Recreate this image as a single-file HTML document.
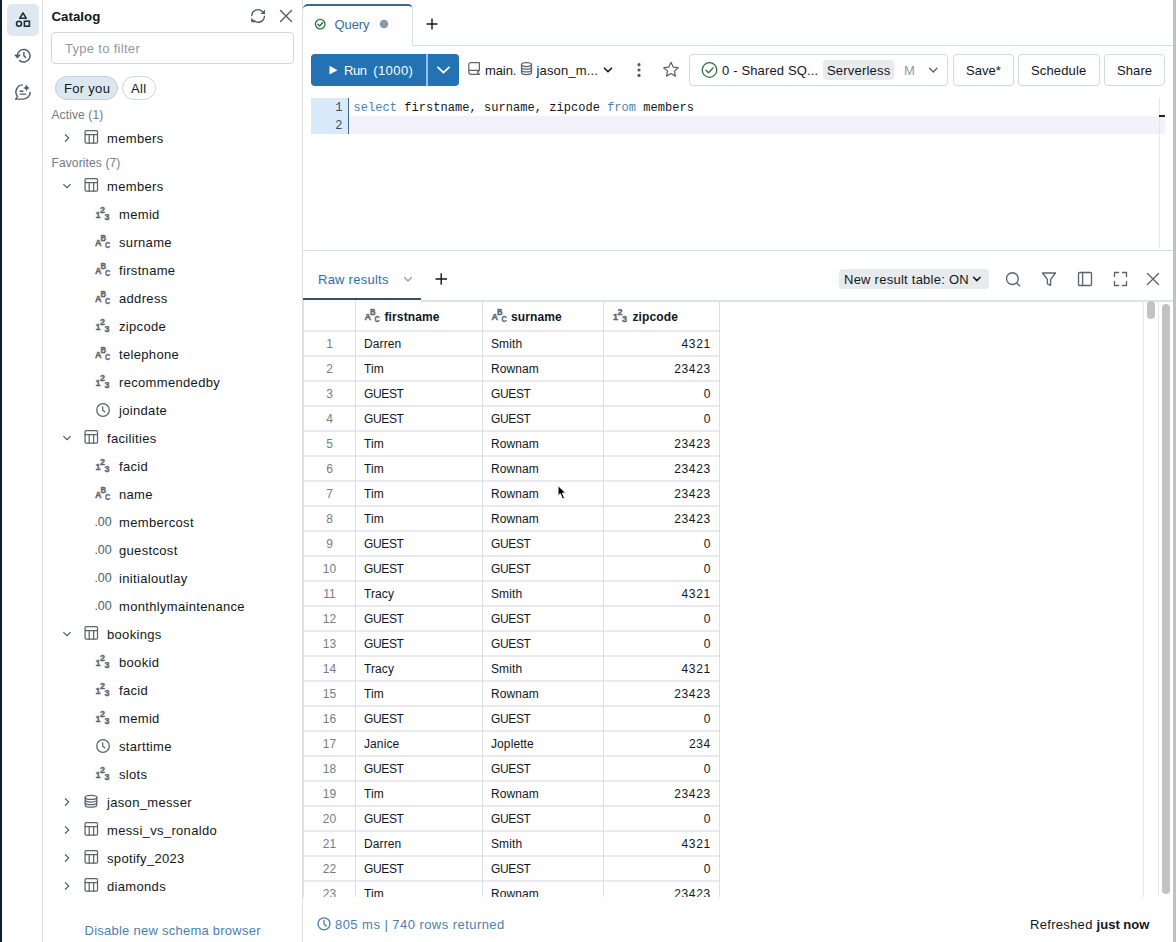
<!DOCTYPE html>
<html><head><meta charset="utf-8">
<style>
*{box-sizing:border-box;margin:0;padding:0}
html,body{width:1176px;height:942px;overflow:hidden;background:#fff;font-family:"Liberation Sans",sans-serif;color:#11171c;font-size:13px}
.a{position:absolute}
.t{position:absolute;white-space:nowrap;line-height:18px}
svg{position:absolute;overflow:visible}
#strip{left:0;top:0;width:2px;height:942px;background:#0e1f29}
#rail{left:2px;top:0;width:41px;height:942px;border-right:1px solid #dbdde1}
#cat{left:43px;top:0;width:260px;height:942px;border-right:1px solid #dbdde1}
.tr{font-size:13px;letter-spacing:0.33px}
.ico{stroke:#5a6570;fill:none;stroke-width:1.3}
.grey{color:#737a81}
</style></head><body>
<div id="strip" class="a"></div>
<div id="rail" class="a"></div>
<div id="cat" class="a"></div>

<!-- rail icons -->
<div class="a" style="left:7px;top:4px;width:32px;height:32px;border-radius:5px;background:#dfe8f1"></div>
<svg width="1176" height="942" style="left:0;top:0">
  <g fill="none" stroke="#1b3139" stroke-width="1.6">
    <path d="M23 12.9 L19.7 18.3 L26.3 18.3 Z" stroke-linejoin="round"/>
    <circle cx="19" cy="23.7" r="2.5"/>
    <rect x="24.4" y="21.2" width="5" height="5"/>
  </g>
  <g fill="none" stroke="#4f5d69" stroke-width="1.45" stroke-linecap="round" stroke-linejoin="round">
    <path d="M19.7 60.6 A6.3 6.3 0 1 0 17.4 56.2"/>
    <path d="M15.3 55.1 L17.45 57.6 L19.7 55.1 Z" fill="#4f5d69"/>
    <path d="M23.9 52.4 V55.7 L25.6 57.5"/>
  </g>
  <g fill="none" stroke="#4f5d69" stroke-width="1.45" stroke-linecap="round" stroke-linejoin="round">
    <path d="M22.6 84.9 A7 7 0 0 0 17.6 96.4 L15.6 99.1 L23.4 99.1 A7 7 0 0 0 30.2 92.4"/>
    <path d="M20.2 91.2 H22.9 M20.2 94.1 H25.7"/>
  </g>
  <path d="M26.5 84.6 Q27 87.4 29.9 87.9 Q27 88.4 26.5 91.2 Q26 88.4 23.1 87.9 Q26 87.4 26.5 84.6Z" fill="#4f5d69"/>
</svg>

<!-- catalog header -->
<div class="t" style="left:51.5px;top:7.5px;font-weight:bold;font-size:13.3px">Catalog</div>
<svg width="1176" height="942" style="left:0;top:0">
  <g fill="none" stroke="#4f5d69" stroke-width="1.4" stroke-linecap="round" stroke-linejoin="round">
    <path d="M251.8 15.6 A6.1 6.1 0 0 1 262.3 11.6"/>
    <path d="M264.4 16.2 A6.1 6.1 0 0 1 254 20.4"/>
  </g>
  <path d="M265 9.6 V14.1 H260.5 Z M251.2 17.7 V22.2 H255.7 Z" fill="#4f5d69"/>
  <g stroke="#4f5d69" stroke-width="1.4" stroke-linecap="round">
    <path d="M280.5 10.5 L291.5 21.5 M291.5 10.5 L280.5 21.5"/>
  </g>
</svg>
<div class="a" style="left:51px;top:32px;width:243px;height:32px;border:1px solid #cfd6dd;border-radius:4px"></div>
<div class="t" style="left:65px;top:40px;color:#8d9aa6;letter-spacing:0.3px">Type to filter</div>
<div class="a" style="left:55px;top:76px;width:63px;height:24px;border:1px solid #c3cfda;border-radius:12px;background:#dde7f0"></div>
<div class="t" style="left:64px;top:80px;letter-spacing:0.3px">For you</div>
<div class="a" style="left:122px;top:76px;width:34px;height:24px;border:1px solid #cfd6dd;border-radius:12px"></div>
<div class="t" style="left:131px;top:80px;letter-spacing:0.3px">All</div>
<div class="t grey" style="left:51.5px;top:105.5px;font-size:12px;letter-spacing:0.12px">Active (1)</div>
<div class="t grey" style="left:51.5px;top:153.5px;font-size:12px;letter-spacing:0.12px">Favorites (7)</div>

<svg width="1176" height="942" style="left:0;top:0"><g fill="none" stroke="#5a6570" stroke-width="1.25" stroke-linecap="round" stroke-linejoin="round"><path d="M65.4 134.7 L68.7 138 L65.4 141.3"/><rect x="85.1" y="130.6" width="12.4" height="12.4" rx="1"/><path d="M85.1 134.6 H97.5 M89.2 134.6 V143 M93.6 134.6 V143"/><path d="M63.7 184.4 L67 187.7 L70.3 184.4"/><rect x="85.1" y="178.6" width="12.4" height="12.4" rx="1"/><path d="M85.1 182.6 H97.5 M89.2 182.6 V191 M93.6 182.6 V191"/><circle cx="103" cy="410" r="6.3"/><path d="M102.7 406.8 V410.2 L104.8 411.8"/><path d="M63.7 436.4 L67 439.7 L70.3 436.4"/><rect x="85.1" y="430.6" width="12.4" height="12.4" rx="1"/><path d="M85.1 434.6 H97.5 M89.2 434.6 V443 M93.6 434.6 V443"/><path d="M63.7 632.4 L67 635.7 L70.3 632.4"/><rect x="85.1" y="626.6" width="12.4" height="12.4" rx="1"/><path d="M85.1 630.6 H97.5 M89.2 630.6 V639 M93.6 630.6 V639"/><circle cx="103" cy="746" r="6.3"/><path d="M102.7 742.8 V746.2 L104.8 747.8"/><path d="M65.4 798.7 L68.7 802 L65.4 805.3"/><ellipse cx="91.0" cy="797.4" rx="5.8" ry="2.0"/><path d="M85.2 797.4 V805.1999999999999 A5.8 2.0 0 0 0 96.8 805.1999999999999 V797.4"/><path d="M85.2 800.0999999999999 A5.8 2.0 0 0 0 96.8 800.0999999999999 M85.2 802.6999999999999 A5.8 2.0 0 0 0 96.8 802.6999999999999"/><path d="M65.4 826.7 L68.7 830 L65.4 833.3"/><rect x="85.1" y="822.6" width="12.4" height="12.4" rx="1"/><path d="M85.1 826.6 H97.5 M89.2 826.6 V835 M93.6 826.6 V835"/><path d="M65.4 854.7 L68.7 858 L65.4 861.3"/><rect x="85.1" y="850.6" width="12.4" height="12.4" rx="1"/><path d="M85.1 854.6 H97.5 M89.2 854.6 V863 M93.6 854.6 V863"/><path d="M65.4 882.7 L68.7 886 L65.4 889.3"/><rect x="85.1" y="878.6" width="12.4" height="12.4" rx="1"/><path d="M85.1 882.6 H97.5 M89.2 882.6 V891 M93.6 882.6 V891"/></g><g fill="#5a6570" stroke="#5a6570" stroke-width="0.35" font-family="Liberation Sans"><text x="95.5" y="217.8" font-size="9" font-weight="bold">1</text><text x="100.0" y="212.8" font-size="9" font-weight="bold">2</text><text x="104.5" y="219.9" font-size="9" font-weight="bold">3</text><text x="95" y="245.6" font-size="9" font-weight="bold">A</text><text transform="translate(100.4 240.75) scale(0.86 1)" font-size="9" font-weight="bold">B</text><text transform="translate(104.9 247.6) scale(0.8 1)" font-size="9" font-weight="bold">C</text><text x="95" y="273.6" font-size="9" font-weight="bold">A</text><text transform="translate(100.4 268.75) scale(0.86 1)" font-size="9" font-weight="bold">B</text><text transform="translate(104.9 275.6) scale(0.8 1)" font-size="9" font-weight="bold">C</text><text x="95" y="301.6" font-size="9" font-weight="bold">A</text><text transform="translate(100.4 296.75) scale(0.86 1)" font-size="9" font-weight="bold">B</text><text transform="translate(104.9 303.6) scale(0.8 1)" font-size="9" font-weight="bold">C</text><text x="95.5" y="329.8" font-size="9" font-weight="bold">1</text><text x="100.0" y="324.8" font-size="9" font-weight="bold">2</text><text x="104.5" y="331.9" font-size="9" font-weight="bold">3</text><text x="95" y="357.6" font-size="9" font-weight="bold">A</text><text transform="translate(100.4 352.75) scale(0.86 1)" font-size="9" font-weight="bold">B</text><text transform="translate(104.9 359.6) scale(0.8 1)" font-size="9" font-weight="bold">C</text><text x="95.5" y="385.8" font-size="9" font-weight="bold">1</text><text x="100.0" y="380.8" font-size="9" font-weight="bold">2</text><text x="104.5" y="387.9" font-size="9" font-weight="bold">3</text><text x="95.5" y="469.8" font-size="9" font-weight="bold">1</text><text x="100.0" y="464.8" font-size="9" font-weight="bold">2</text><text x="104.5" y="471.9" font-size="9" font-weight="bold">3</text><text x="95" y="497.6" font-size="9" font-weight="bold">A</text><text transform="translate(100.4 492.75) scale(0.86 1)" font-size="9" font-weight="bold">B</text><text transform="translate(104.9 499.6) scale(0.8 1)" font-size="9" font-weight="bold">C</text><text x="94.5" y="526" font-size="12.5" letter-spacing="-0.1" fill="#4f5d69" stroke="none">.00</text><text x="94.5" y="554" font-size="12.5" letter-spacing="-0.1" fill="#4f5d69" stroke="none">.00</text><text x="94.5" y="582" font-size="12.5" letter-spacing="-0.1" fill="#4f5d69" stroke="none">.00</text><text x="94.5" y="610" font-size="12.5" letter-spacing="-0.1" fill="#4f5d69" stroke="none">.00</text><text x="95.5" y="665.8" font-size="9" font-weight="bold">1</text><text x="100.0" y="660.8" font-size="9" font-weight="bold">2</text><text x="104.5" y="667.9" font-size="9" font-weight="bold">3</text><text x="95.5" y="693.8" font-size="9" font-weight="bold">1</text><text x="100.0" y="688.8" font-size="9" font-weight="bold">2</text><text x="104.5" y="695.9" font-size="9" font-weight="bold">3</text><text x="95.5" y="721.8" font-size="9" font-weight="bold">1</text><text x="100.0" y="716.8" font-size="9" font-weight="bold">2</text><text x="104.5" y="723.9" font-size="9" font-weight="bold">3</text><text x="95.5" y="777.8" font-size="9" font-weight="bold">1</text><text x="100.0" y="772.8" font-size="9" font-weight="bold">2</text><text x="104.5" y="779.9" font-size="9" font-weight="bold">3</text></g></svg>
<div class="t tr" style="left:107px;top:130px">members</div>
<div class="t tr" style="left:107px;top:178px">members</div>
<div class="t tr" style="left:119px;top:206px">memid</div>
<div class="t tr" style="left:119px;top:234px">surname</div>
<div class="t tr" style="left:119px;top:262px">firstname</div>
<div class="t tr" style="left:119px;top:290px">address</div>
<div class="t tr" style="left:119px;top:318px">zipcode</div>
<div class="t tr" style="left:119px;top:346px">telephone</div>
<div class="t tr" style="left:119px;top:374px">recommendedby</div>
<div class="t tr" style="left:119px;top:402px">joindate</div>
<div class="t tr" style="left:107px;top:430px">facilities</div>
<div class="t tr" style="left:119px;top:458px">facid</div>
<div class="t tr" style="left:119px;top:486px">name</div>
<div class="t tr" style="left:119px;top:514px">membercost</div>
<div class="t tr" style="left:119px;top:542px">guestcost</div>
<div class="t tr" style="left:119px;top:570px">initialoutlay</div>
<div class="t tr" style="left:119px;top:598px">monthlymaintenance</div>
<div class="t tr" style="left:107px;top:626px">bookings</div>
<div class="t tr" style="left:119px;top:654px">bookid</div>
<div class="t tr" style="left:119px;top:682px">facid</div>
<div class="t tr" style="left:119px;top:710px">memid</div>
<div class="t tr" style="left:119px;top:738px">starttime</div>
<div class="t tr" style="left:119px;top:766px">slots</div>
<div class="t tr" style="left:107px;top:794px">jason_messer</div>
<div class="t tr" style="left:107px;top:822px">messi_vs_ronaldo</div>
<div class="t tr" style="left:107px;top:850px">spotify_2023</div>
<div class="t tr" style="left:107px;top:878px">diamonds</div>

<div class="t" style="left:84.5px;top:922px;color:#4a7fb0;letter-spacing:0.25px">Disable new schema browser</div>


<!-- ===== MAIN ===== -->
<!-- tab bar -->
<div class="a" style="left:413px;top:45px;width:760px;height:1px;background:#d9dee3"></div>
<div class="a" style="left:303px;top:4px;width:110px;height:42px;border-top:2px solid #3d6891;border-right:1px solid #d9dee3;border-top-left-radius:5px;border-top-right-radius:5px;background:#fff"></div>
<svg width="1176" height="942" style="left:0;top:0">
  <circle cx="320.2" cy="24.1" r="4.8" fill="none" stroke="#2f6f40" stroke-width="1.3"/>
  <path d="M317.9 24.2 L319.6 25.9 L322.6 22.7" fill="none" stroke="#2f6f40" stroke-width="1.4" stroke-linecap="round" stroke-linejoin="round"/>
  <circle cx="384" cy="24" r="4.3" fill="#8a99a8"/>
  <path d="M426.5 24 H437.5 M432 18.5 V29.5" stroke="#11171c" stroke-width="1.4"/>
</svg>
<div class="t" style="left:334.5px;top:15.5px;color:#3b6b98;letter-spacing:-0.1px">Query</div>

<!-- toolbar -->
<div class="a" style="left:311px;top:54px;width:148px;height:32px;border-radius:4px;background:#2272b4"></div>
<div class="a" style="left:426px;top:54px;width:2px;height:32px;background:#8fc2ee"></div>
<svg width="1176" height="942" style="left:0;top:0">
  <path d="M329.5 65.8 L337.5 70.2 L329.5 74.6 Z" fill="#fff"/>
  <path d="M438 67.3 L443.5 72.7 L449 67.3" fill="none" stroke="#fff" stroke-width="1.8" stroke-linecap="round" stroke-linejoin="round"/>
</svg>
<div class="t" style="left:344px;top:62px;color:#fff"><span style="letter-spacing:-0.45px">Run</span> <span style="letter-spacing:0.45px;margin-left:3px">(1000)</span></div>

<svg width="1176" height="942" style="left:0;top:0">
  <g fill="none" stroke="#5a6570" stroke-width="1.25" stroke-linecap="round" stroke-linejoin="round">
    <path d="M479.4 70.3 V62.5 H470.9 A2.1 2.1 0 0 0 468.8 64.6 V72.2 A2.1 2.1 0 0 0 470.9 74.3 H479.4 L477.4 72.3 L479.4 70.3 H468.8"/>
    <ellipse cx="526.5" cy="64.5" rx="5" ry="2"/>
    <path d="M521.5 64.5 V72.5 A5 2 0 0 0 531.5 72.5 V64.5 M521.5 67.2 A5 2 0 0 0 531.5 67.2 M521.5 69.9 A5 2 0 0 0 531.5 69.9"/>
  </g>
  <path d="M604.5 68.2 L608 71.7 L611.5 68.2" fill="none" stroke="#11171c" stroke-width="1.6" stroke-linecap="round" stroke-linejoin="round"/>
  <g fill="#4f5a66"><circle cx="639" cy="64.7" r="1.6"/><circle cx="639" cy="70" r="1.6"/><circle cx="639" cy="75.4" r="1.6"/></g>
  <path d="M671 62.3 L673.2 67.1 L678.2 67.7 L674.4 71.1 L675.5 76.1 L671 73.5 L666.5 76.1 L667.6 71.1 L663.8 67.7 L668.8 67.1 Z" fill="none" stroke="#5a6570" stroke-width="1.25" stroke-linejoin="round"/>
</svg>
<div class="t" style="left:485px;top:62px;letter-spacing:-0.1px">main.</div>
<div class="t" style="left:536.5px;top:62px;letter-spacing:0.15px">jason_m...</div>

<!-- warehouse -->
<div class="a" style="left:689px;top:54px;width:259px;height:32px;border:1px solid #d1d9e1;border-radius:4px"></div>
<svg width="1176" height="942" style="left:0;top:0">
  <circle cx="709.5" cy="70" r="7.3" fill="none" stroke="#2f6f40" stroke-width="1.3"/>
  <path d="M706 70.2 L708.5 72.7 L713 68" fill="none" stroke="#2f6f40" stroke-width="1.3" stroke-linecap="round" stroke-linejoin="round"/>
  <path d="M929.7 68.3 L933.3 71.9 L936.9 68.3" fill="none" stroke="#5a6570" stroke-width="1.4" stroke-linecap="round" stroke-linejoin="round"/>
</svg>
<div class="t" style="left:722px;top:62px;letter-spacing:0.15px">0 - Shared SQ...</div>
<div class="a" style="left:823px;top:60px;width:71px;height:20px;border-radius:4px;background:#e8ebee"></div>
<div class="t" style="left:827px;top:62px;letter-spacing:0.2px">Serverless</div>
<div class="t" style="left:904px;top:62px;color:#8d9aa6">M</div>

<div class="a" style="left:953px;top:54px;width:61px;height:32px;border:1px solid #d1d9e1;border-radius:4px"></div>
<div class="t" style="left:966px;top:62px;letter-spacing:0px">Save*</div>
<div class="a" style="left:1018px;top:54px;width:82px;height:32px;border:1px solid #d1d9e1;border-radius:4px"></div>
<div class="t" style="left:1031px;top:62px;letter-spacing:0.15px">Schedule</div>
<div class="a" style="left:1104px;top:54px;width:61px;height:32px;border:1px solid #d1d9e1;border-radius:4px"></div>
<div class="t" style="left:1117px;top:62px;letter-spacing:0.1px">Share</div>

<!-- editor -->
<div class="a" style="left:311px;top:98px;width:37px;height:36px;background:#d9eafb"></div>
<div class="a" style="left:348px;top:98px;width:1px;height:36px;background:#3f6891"></div>
<div class="a" style="left:349px;top:116px;width:816px;height:18px;background:#f3f2fb"></div>
<div class="a" style="left:1159px;top:98px;width:1px;height:150px;background:#e4e7ea"></div>
<div class="a" style="left:1159px;top:115px;width:6px;height:2px;background:#222"></div>
<div class="a" style="left:323px;top:99px;width:19.5px;font-family:'Liberation Mono',monospace;font-size:12px;line-height:18px;text-align:right;color:#3e4f5e">1<br>2</div>
<div class="a" style="left:353.5px;top:99px;font-family:'Liberation Mono',monospace;font-size:12px;line-height:18px;white-space:pre;letter-spacing:0.045px;color:#11171c"><span style="color:#4a7fb5">select</span> firstname, surname, zipcode <span style="color:#4a7fb5">from</span> members</div>

<!-- splitter -->
<div class="a" style="left:303px;top:250px;width:870px;height:1px;background:#d5dbe1"></div>

<!-- results tabs -->
<div class="t" style="left:318px;top:271px;color:#2f6ea3;letter-spacing:0.25px">Raw results</div>
<svg width="1176" height="942" style="left:0;top:0">
  <path d="M404.5 277.5 L408 281 L411.5 277.5" fill="none" stroke="#8d9aa6" stroke-width="1.2" stroke-linecap="round" stroke-linejoin="round"/>
  <path d="M435.5 279 H447 M441.2 273.3 V284.7" stroke="#11171c" stroke-width="1.4"/>
</svg>
<div class="a" style="left:303px;top:298px;width:118px;height:2px;background:#37506a"></div>
<div class="a" style="left:421px;top:300px;width:752px;height:2px;background:#dfe2e5"></div>

<div class="a" style="left:839px;top:269px;width:150px;height:20px;border-radius:4px;background:#e8ebee"></div>
<div class="t" style="left:844px;top:271px;letter-spacing:0.25px">New result table: ON</div>
<svg width="1176" height="942" style="left:0;top:0">
  <path d="M973.5 277.3 L976.8 280.6 L980.1 277.3" fill="none" stroke="#11171c" stroke-width="1.5" stroke-linecap="round" stroke-linejoin="round"/>
  <g fill="none" stroke="#5a6570" stroke-width="1.35" stroke-linecap="round" stroke-linejoin="round">
    <circle cx="1012.4" cy="278.6" r="5.9"/><path d="M1016.7 282.9 L1019.6 285.8"/>
    <path d="M1042.5 273 H1055.5 L1050.6 279.3 V285.3 L1047.4 283.8 V279.3 Z"/>
    <rect x="1078.5" y="272.5" width="13" height="13" rx="1"/><path d="M1082.6 272.5 V285.5"/>
    <path d="M1114.5 276.5 V272.5 H1118.5 M1122.5 272.5 H1126.5 V276.5 M1126.5 281.5 V285.5 H1122.5 M1118.5 285.5 H1114.5 V281.5"/>
    <path d="M1147.5 273.5 L1158.5 284.5 M1158.5 273.5 L1147.5 284.5"/>
  </g>
</svg>

<div class="a" style="left:304px;top:300px;width:839px;height:597px;overflow:hidden">
<div class="a" style="left:0;top:30px;width:416px;height:2px;background:#e8eaed"></div>
<div class="a" style="left:0;top:55px;width:416px;height:2px;background:#e8eaed"></div>
<div class="a" style="left:0;top:80px;width:416px;height:2px;background:#e8eaed"></div>
<div class="a" style="left:0;top:105px;width:416px;height:2px;background:#e8eaed"></div>
<div class="a" style="left:0;top:130px;width:416px;height:2px;background:#e8eaed"></div>
<div class="a" style="left:0;top:155px;width:416px;height:2px;background:#e8eaed"></div>
<div class="a" style="left:0;top:180px;width:416px;height:2px;background:#e8eaed"></div>
<div class="a" style="left:0;top:205px;width:416px;height:2px;background:#e8eaed"></div>
<div class="a" style="left:0;top:230px;width:416px;height:2px;background:#e8eaed"></div>
<div class="a" style="left:0;top:255px;width:416px;height:2px;background:#e8eaed"></div>
<div class="a" style="left:0;top:280px;width:416px;height:2px;background:#e8eaed"></div>
<div class="a" style="left:0;top:305px;width:416px;height:2px;background:#e8eaed"></div>
<div class="a" style="left:0;top:330px;width:416px;height:2px;background:#e8eaed"></div>
<div class="a" style="left:0;top:355px;width:416px;height:2px;background:#e8eaed"></div>
<div class="a" style="left:0;top:380px;width:416px;height:2px;background:#e8eaed"></div>
<div class="a" style="left:0;top:405px;width:416px;height:2px;background:#e8eaed"></div>
<div class="a" style="left:0;top:430px;width:416px;height:2px;background:#e8eaed"></div>
<div class="a" style="left:0;top:455px;width:416px;height:2px;background:#e8eaed"></div>
<div class="a" style="left:0;top:480px;width:416px;height:2px;background:#e8eaed"></div>
<div class="a" style="left:0;top:505px;width:416px;height:2px;background:#e8eaed"></div>
<div class="a" style="left:0;top:530px;width:416px;height:2px;background:#e8eaed"></div>
<div class="a" style="left:0;top:555px;width:416px;height:2px;background:#e8eaed"></div>
<div class="a" style="left:0;top:580px;width:416px;height:2px;background:#e8eaed"></div>
<div class="a" style="left:0;top:605px;width:416px;height:2px;background:#e8eaed"></div>
<div class="a" style="left:51px;top:0;width:1px;height:597px;background:#dcdfe3"></div>
<div class="a" style="left:178px;top:0;width:1px;height:597px;background:#dcdfe3"></div>
<div class="a" style="left:299px;top:0;width:1px;height:597px;background:#dcdfe3"></div>
<div class="a" style="left:415px;top:0;width:1px;height:597px;background:#dcdfe3"></div>
<div class="t" style="left:80.5px;top:8px;font-weight:bold;font-size:12px;letter-spacing:0.12px">firstname</div>
<div class="t" style="left:207px;top:8px;font-weight:bold;font-size:12px;letter-spacing:0.12px">surname</div>
<div class="t" style="left:328.5px;top:8px;font-weight:bold;font-size:12px;letter-spacing:0.12px">zipcode</div>
<div class="t" style="left:0;top:36px;width:51px;text-align:center;font-size:12px;line-height:16px;color:#767d84">1</div>
<div class="t" style="left:60px;top:36px;font-size:12px;line-height:16px;letter-spacing:0.1px">Darren</div>
<div class="t" style="left:187px;top:36px;font-size:12px;line-height:16px;letter-spacing:0.1px">Smith</div>
<div class="t" style="left:300px;top:36px;width:107px;text-align:right;font-size:12px;line-height:16px;letter-spacing:0.7px">4321</div>
<div class="t" style="left:0;top:61px;width:51px;text-align:center;font-size:12px;line-height:16px;color:#767d84">2</div>
<div class="t" style="left:60px;top:61px;font-size:12px;line-height:16px;letter-spacing:0.1px">Tim</div>
<div class="t" style="left:187px;top:61px;font-size:12px;line-height:16px;letter-spacing:0.1px">Rownam</div>
<div class="t" style="left:300px;top:61px;width:107px;text-align:right;font-size:12px;line-height:16px;letter-spacing:0.7px">23423</div>
<div class="t" style="left:0;top:86px;width:51px;text-align:center;font-size:12px;line-height:16px;color:#767d84">3</div>
<div class="t" style="left:60px;top:86px;font-size:12px;line-height:16px;letter-spacing:-0.35px">GUEST</div>
<div class="t" style="left:187px;top:86px;font-size:12px;line-height:16px;letter-spacing:-0.35px">GUEST</div>
<div class="t" style="left:300px;top:86px;width:107px;text-align:right;font-size:12px;line-height:16px;letter-spacing:0.7px">0</div>
<div class="t" style="left:0;top:111px;width:51px;text-align:center;font-size:12px;line-height:16px;color:#767d84">4</div>
<div class="t" style="left:60px;top:111px;font-size:12px;line-height:16px;letter-spacing:-0.35px">GUEST</div>
<div class="t" style="left:187px;top:111px;font-size:12px;line-height:16px;letter-spacing:-0.35px">GUEST</div>
<div class="t" style="left:300px;top:111px;width:107px;text-align:right;font-size:12px;line-height:16px;letter-spacing:0.7px">0</div>
<div class="t" style="left:0;top:136px;width:51px;text-align:center;font-size:12px;line-height:16px;color:#767d84">5</div>
<div class="t" style="left:60px;top:136px;font-size:12px;line-height:16px;letter-spacing:0.1px">Tim</div>
<div class="t" style="left:187px;top:136px;font-size:12px;line-height:16px;letter-spacing:0.1px">Rownam</div>
<div class="t" style="left:300px;top:136px;width:107px;text-align:right;font-size:12px;line-height:16px;letter-spacing:0.7px">23423</div>
<div class="t" style="left:0;top:161px;width:51px;text-align:center;font-size:12px;line-height:16px;color:#767d84">6</div>
<div class="t" style="left:60px;top:161px;font-size:12px;line-height:16px;letter-spacing:0.1px">Tim</div>
<div class="t" style="left:187px;top:161px;font-size:12px;line-height:16px;letter-spacing:0.1px">Rownam</div>
<div class="t" style="left:300px;top:161px;width:107px;text-align:right;font-size:12px;line-height:16px;letter-spacing:0.7px">23423</div>
<div class="t" style="left:0;top:186px;width:51px;text-align:center;font-size:12px;line-height:16px;color:#767d84">7</div>
<div class="t" style="left:60px;top:186px;font-size:12px;line-height:16px;letter-spacing:0.1px">Tim</div>
<div class="t" style="left:187px;top:186px;font-size:12px;line-height:16px;letter-spacing:0.1px">Rownam</div>
<div class="t" style="left:300px;top:186px;width:107px;text-align:right;font-size:12px;line-height:16px;letter-spacing:0.7px">23423</div>
<div class="t" style="left:0;top:211px;width:51px;text-align:center;font-size:12px;line-height:16px;color:#767d84">8</div>
<div class="t" style="left:60px;top:211px;font-size:12px;line-height:16px;letter-spacing:0.1px">Tim</div>
<div class="t" style="left:187px;top:211px;font-size:12px;line-height:16px;letter-spacing:0.1px">Rownam</div>
<div class="t" style="left:300px;top:211px;width:107px;text-align:right;font-size:12px;line-height:16px;letter-spacing:0.7px">23423</div>
<div class="t" style="left:0;top:236px;width:51px;text-align:center;font-size:12px;line-height:16px;color:#767d84">9</div>
<div class="t" style="left:60px;top:236px;font-size:12px;line-height:16px;letter-spacing:-0.35px">GUEST</div>
<div class="t" style="left:187px;top:236px;font-size:12px;line-height:16px;letter-spacing:-0.35px">GUEST</div>
<div class="t" style="left:300px;top:236px;width:107px;text-align:right;font-size:12px;line-height:16px;letter-spacing:0.7px">0</div>
<div class="t" style="left:0;top:261px;width:51px;text-align:center;font-size:12px;line-height:16px;color:#767d84">10</div>
<div class="t" style="left:60px;top:261px;font-size:12px;line-height:16px;letter-spacing:-0.35px">GUEST</div>
<div class="t" style="left:187px;top:261px;font-size:12px;line-height:16px;letter-spacing:-0.35px">GUEST</div>
<div class="t" style="left:300px;top:261px;width:107px;text-align:right;font-size:12px;line-height:16px;letter-spacing:0.7px">0</div>
<div class="t" style="left:0;top:286px;width:51px;text-align:center;font-size:12px;line-height:16px;color:#767d84">11</div>
<div class="t" style="left:60px;top:286px;font-size:12px;line-height:16px;letter-spacing:0.1px">Tracy</div>
<div class="t" style="left:187px;top:286px;font-size:12px;line-height:16px;letter-spacing:0.1px">Smith</div>
<div class="t" style="left:300px;top:286px;width:107px;text-align:right;font-size:12px;line-height:16px;letter-spacing:0.7px">4321</div>
<div class="t" style="left:0;top:311px;width:51px;text-align:center;font-size:12px;line-height:16px;color:#767d84">12</div>
<div class="t" style="left:60px;top:311px;font-size:12px;line-height:16px;letter-spacing:-0.35px">GUEST</div>
<div class="t" style="left:187px;top:311px;font-size:12px;line-height:16px;letter-spacing:-0.35px">GUEST</div>
<div class="t" style="left:300px;top:311px;width:107px;text-align:right;font-size:12px;line-height:16px;letter-spacing:0.7px">0</div>
<div class="t" style="left:0;top:336px;width:51px;text-align:center;font-size:12px;line-height:16px;color:#767d84">13</div>
<div class="t" style="left:60px;top:336px;font-size:12px;line-height:16px;letter-spacing:-0.35px">GUEST</div>
<div class="t" style="left:187px;top:336px;font-size:12px;line-height:16px;letter-spacing:-0.35px">GUEST</div>
<div class="t" style="left:300px;top:336px;width:107px;text-align:right;font-size:12px;line-height:16px;letter-spacing:0.7px">0</div>
<div class="t" style="left:0;top:361px;width:51px;text-align:center;font-size:12px;line-height:16px;color:#767d84">14</div>
<div class="t" style="left:60px;top:361px;font-size:12px;line-height:16px;letter-spacing:0.1px">Tracy</div>
<div class="t" style="left:187px;top:361px;font-size:12px;line-height:16px;letter-spacing:0.1px">Smith</div>
<div class="t" style="left:300px;top:361px;width:107px;text-align:right;font-size:12px;line-height:16px;letter-spacing:0.7px">4321</div>
<div class="t" style="left:0;top:386px;width:51px;text-align:center;font-size:12px;line-height:16px;color:#767d84">15</div>
<div class="t" style="left:60px;top:386px;font-size:12px;line-height:16px;letter-spacing:0.1px">Tim</div>
<div class="t" style="left:187px;top:386px;font-size:12px;line-height:16px;letter-spacing:0.1px">Rownam</div>
<div class="t" style="left:300px;top:386px;width:107px;text-align:right;font-size:12px;line-height:16px;letter-spacing:0.7px">23423</div>
<div class="t" style="left:0;top:411px;width:51px;text-align:center;font-size:12px;line-height:16px;color:#767d84">16</div>
<div class="t" style="left:60px;top:411px;font-size:12px;line-height:16px;letter-spacing:-0.35px">GUEST</div>
<div class="t" style="left:187px;top:411px;font-size:12px;line-height:16px;letter-spacing:-0.35px">GUEST</div>
<div class="t" style="left:300px;top:411px;width:107px;text-align:right;font-size:12px;line-height:16px;letter-spacing:0.7px">0</div>
<div class="t" style="left:0;top:436px;width:51px;text-align:center;font-size:12px;line-height:16px;color:#767d84">17</div>
<div class="t" style="left:60px;top:436px;font-size:12px;line-height:16px;letter-spacing:0.1px">Janice</div>
<div class="t" style="left:187px;top:436px;font-size:12px;line-height:16px;letter-spacing:0.1px">Joplette</div>
<div class="t" style="left:300px;top:436px;width:107px;text-align:right;font-size:12px;line-height:16px;letter-spacing:0.7px">234</div>
<div class="t" style="left:0;top:461px;width:51px;text-align:center;font-size:12px;line-height:16px;color:#767d84">18</div>
<div class="t" style="left:60px;top:461px;font-size:12px;line-height:16px;letter-spacing:-0.35px">GUEST</div>
<div class="t" style="left:187px;top:461px;font-size:12px;line-height:16px;letter-spacing:-0.35px">GUEST</div>
<div class="t" style="left:300px;top:461px;width:107px;text-align:right;font-size:12px;line-height:16px;letter-spacing:0.7px">0</div>
<div class="t" style="left:0;top:486px;width:51px;text-align:center;font-size:12px;line-height:16px;color:#767d84">19</div>
<div class="t" style="left:60px;top:486px;font-size:12px;line-height:16px;letter-spacing:0.1px">Tim</div>
<div class="t" style="left:187px;top:486px;font-size:12px;line-height:16px;letter-spacing:0.1px">Rownam</div>
<div class="t" style="left:300px;top:486px;width:107px;text-align:right;font-size:12px;line-height:16px;letter-spacing:0.7px">23423</div>
<div class="t" style="left:0;top:511px;width:51px;text-align:center;font-size:12px;line-height:16px;color:#767d84">20</div>
<div class="t" style="left:60px;top:511px;font-size:12px;line-height:16px;letter-spacing:-0.35px">GUEST</div>
<div class="t" style="left:187px;top:511px;font-size:12px;line-height:16px;letter-spacing:-0.35px">GUEST</div>
<div class="t" style="left:300px;top:511px;width:107px;text-align:right;font-size:12px;line-height:16px;letter-spacing:0.7px">0</div>
<div class="t" style="left:0;top:536px;width:51px;text-align:center;font-size:12px;line-height:16px;color:#767d84">21</div>
<div class="t" style="left:60px;top:536px;font-size:12px;line-height:16px;letter-spacing:0.1px">Darren</div>
<div class="t" style="left:187px;top:536px;font-size:12px;line-height:16px;letter-spacing:0.1px">Smith</div>
<div class="t" style="left:300px;top:536px;width:107px;text-align:right;font-size:12px;line-height:16px;letter-spacing:0.7px">4321</div>
<div class="t" style="left:0;top:561px;width:51px;text-align:center;font-size:12px;line-height:16px;color:#767d84">22</div>
<div class="t" style="left:60px;top:561px;font-size:12px;line-height:16px;letter-spacing:-0.35px">GUEST</div>
<div class="t" style="left:187px;top:561px;font-size:12px;line-height:16px;letter-spacing:-0.35px">GUEST</div>
<div class="t" style="left:300px;top:561px;width:107px;text-align:right;font-size:12px;line-height:16px;letter-spacing:0.7px">0</div>
<div class="t" style="left:0;top:586px;width:51px;text-align:center;font-size:12px;line-height:16px;color:#767d84">23</div>
<div class="t" style="left:60px;top:586px;font-size:12px;line-height:16px;letter-spacing:0.1px">Tim</div>
<div class="t" style="left:187px;top:586px;font-size:12px;line-height:16px;letter-spacing:0.1px">Rownam</div>
<div class="t" style="left:300px;top:586px;width:107px;text-align:right;font-size:12px;line-height:16px;letter-spacing:0.7px">23423</div>
</div><svg width="1176" height="942" style="left:0;top:0"><g fill="#5a6570" stroke="#5a6570" stroke-width="0.35" font-family="Liberation Sans"><text x="364.5" y="320.1" font-size="9" font-weight="bold">A</text><text transform="translate(369.9 315.25) scale(0.86 1)" font-size="9" font-weight="bold">B</text><text transform="translate(374.4 322.1) scale(0.8 1)" font-size="9" font-weight="bold">C</text><text x="491.5" y="320.1" font-size="9" font-weight="bold">A</text><text transform="translate(496.9 315.25) scale(0.86 1)" font-size="9" font-weight="bold">B</text><text transform="translate(501.4 322.1) scale(0.8 1)" font-size="9" font-weight="bold">C</text><text x="613" y="319.8" font-size="9" font-weight="bold">1</text><text x="617.5" y="314.8" font-size="9" font-weight="bold">2</text><text x="622" y="321.9" font-size="9" font-weight="bold">3</text></g></svg>

<div class="a" style="left:303px;top:300px;width:1px;height:597px;background:#dfe2e6"></div>
<!-- scrollbars -->
<div class="a" style="left:1143px;top:300px;width:1px;height:597px;background:#e4e7ea"></div>
<div class="a" style="left:1147px;top:301px;width:8px;height:18px;border-radius:4px;background:#c2c2c2"></div>
<div class="a" style="left:1158px;top:300px;width:1px;height:597px;background:#e4e7ea"></div>
<div class="a" style="left:1162px;top:304px;width:8px;height:590px;border-radius:4px;background:#c2c2c2"></div>
<div class="a" style="left:1173px;top:0;width:3px;height:942px;background:#c0c1c6"></div>

<!-- footer -->
<svg width="1176" height="942" style="left:0;top:0">
  <g fill="none" stroke="#4a7fb0" stroke-width="1.3" stroke-linecap="round">
    <circle cx="324" cy="923.8" r="6"/><path d="M324 920.3 V924 L326.3 926"/>
  </g>
</svg>
<div class="t" style="left:335px;top:916px;color:#4a7fb0;letter-spacing:0.45px">805 ms | 740 rows returned</div>
<div class="t" style="left:1030px;top:916px;letter-spacing:0.3px">Refreshed <b style="letter-spacing:0">just now</b></div>

<!-- cursor -->
<svg width="1176" height="942" style="left:0;top:0">
  <path d="M558 485.6 L558 495.8 L560.3 493.7 L562.5 499 L564.6 498.2 L562.4 493.1 L565.7 492.9 Z" fill="#000" stroke="#fff" stroke-width="1" stroke-linejoin="round"/>
</svg>

</body></html>
